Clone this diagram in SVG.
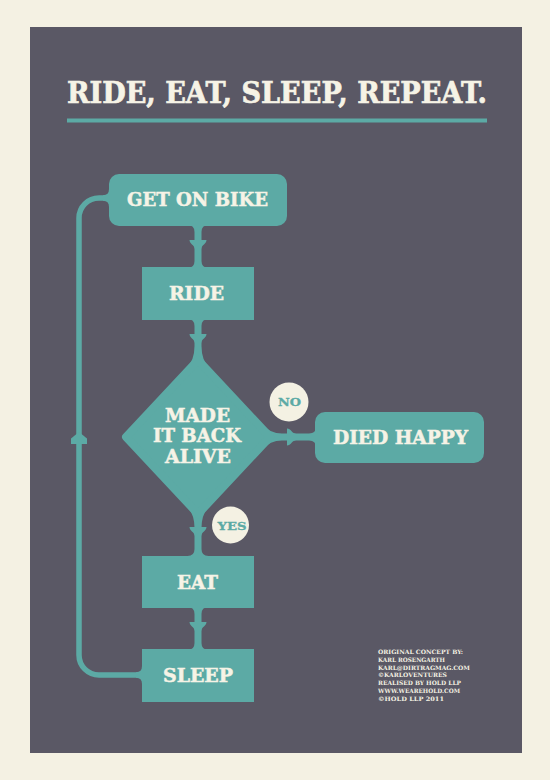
<svg xmlns="http://www.w3.org/2000/svg" width="550" height="780" viewBox="0 0 550 780">
  <defs>
    <style>
      .teal { fill: #5caaa5; }
      .lbl { font-family: "DejaVu Serif", "Liberation Serif", serif; font-weight: bold; fill: #f6f3e6; stroke: #f6f3e6; stroke-width: 0.5px; text-anchor: middle; font-size: 18px; }
      .badge { fill: #f4f1e3; }
      .btxt { font-family: "DejaVu Serif", "Liberation Serif", serif; font-weight: bold; fill: #5caaa5; stroke: #5caaa5; stroke-width: 0.3px; text-anchor: middle; font-size: 11.5px; }
      .cred { font-family: "DejaVu Serif", "Liberation Serif", serif; font-weight: bold; fill: #f4f1e3; font-size: 6px; }
    </style>
    <path id="arr" d="M-8.5,0 H8.5 C8.5,4 3.5,5 3.5,8.5 H-3.5 C-3.5,5 -8.5,4 -8.5,0 Z"/>
  </defs>

  <rect x="0" y="0" width="550" height="780" fill="#f4f1e3"/>
  <rect x="30" y="27" width="492" height="726" fill="#5a5865"/>

  <text x="67" y="102.5" font-family="DejaVu Serif, Liberation Serif, serif" font-weight="bold" font-size="29" fill="#f6f3e6" stroke="#f6f3e6" stroke-width="0.7" textLength="420" lengthAdjust="spacingAndGlyphs">RIDE, EAT, SLEEP, REPEAT.</text>
  <rect x="67" y="118.5" width="420" height="4" class="teal"/>

  <g id="connectors" class="teal">
    <!-- loop back line -->
    <path d="M142,675 H99 A20,20 0 0 1 79,655 V218 A20,20 0 0 1 99,198 H110" fill="none" stroke="#5caaa5" stroke-width="5.5"/>
    <path d="M136,672.25 Q142,672.25 142,666 L142,684 Q142,677.75 136,677.75 Z"/>
    <path d="M103,195.25 Q109,195.25 109,189 L109,207 Q109,200.75 103,200.75 Z"/>
    <path d="M71,444 V438.5 L79,432 L87,438.5 V444 Z"/>
    <!-- get on bike -> ride -->
    <path d="M187.5,225 Q194.5,225 194.5,232 L194.5,261 Q194.5,268 187.5,268 H208.5 Q201.5,268 201.5,261 V232 Q201.5,225 208.5,225 Z"/>
    <use href="#arr" x="198" y="240"/>
    <!-- ride -> decision -->
    <path d="M187.5,319 Q194.5,319 194.5,326 L194.5,346 Q194.5,360 186.7,368 L209.3,368 Q201.5,360 201.5,346 L201.5,326 Q201.5,319 208.5,319 Z"/>
    <use href="#arr" x="198" y="334"/>
    <!-- decision -> eat -->
    <path d="M186.7,506 Q194.5,514 194.5,528 L194.5,549 Q194.5,556 187.5,556 H208.5 Q201.5,556 201.5,549 V528 Q201.5,514 209.3,506 Z"/>
    <use href="#arr" x="198" y="527"/>
    <!-- eat -> sleep -->
    <path d="M187.5,607 Q194.5,607 194.5,614 L194.5,643 Q194.5,650 187.5,650 H208.5 Q201.5,650 201.5,643 V614 Q201.5,607 208.5,607 Z"/>
    <use href="#arr" x="198" y="622"/>
    <!-- decision -> died happy -->
    <path d="M262,424.2 Q270,433.5 282,433.5 H309 Q316,433.5 316,426.5 V447.5 Q316,440.5 309,440.5 H282 Q270,440.5 262,449.8 Z"/>
    <use href="#arr" transform="translate(287,437) rotate(-90)"/>
  </g>

  <g id="node-get-on-bike">
    <rect x="109" y="174" width="178" height="52" rx="10" class="teal"/>
    <text x="197.5" y="206" class="lbl" textLength="141" lengthAdjust="spacingAndGlyphs">GET ON BIKE</text>
  </g>

  <g id="node-ride">
    <rect x="142" y="267" width="112" height="53" class="teal"/>
    <text x="196.5" y="300" class="lbl" textLength="55" lengthAdjust="spacingAndGlyphs">RIDE</text>
  </g>

  <g id="node-decision">
    <polygon points="198,360 270,437 198,514 126,437" class="teal" stroke="#5caaa5" stroke-width="8" stroke-linejoin="round"/>
    <text x="197.5" y="422" class="lbl" textLength="65" lengthAdjust="spacingAndGlyphs">MADE</text>
    <text x="197" y="442" class="lbl" textLength="88" lengthAdjust="spacingAndGlyphs">IT BACK</text>
    <text x="198" y="463" class="lbl" textLength="66" lengthAdjust="spacingAndGlyphs">ALIVE</text>
  </g>

  <g id="label-no">
    <circle cx="289" cy="402" r="19.5" class="badge"/>
    <text x="289.5" y="406" class="btxt" textLength="23" lengthAdjust="spacingAndGlyphs">NO</text>
  </g>

  <g id="label-yes">
    <circle cx="230.5" cy="525" r="18.5" class="badge"/>
    <text x="232" y="530" class="btxt" textLength="29" lengthAdjust="spacingAndGlyphs">YES</text>
  </g>

  <g id="node-died-happy">
    <rect x="315" y="412" width="169" height="51" rx="10" class="teal"/>
    <text x="400.5" y="444" class="lbl" textLength="135" lengthAdjust="spacingAndGlyphs">DIED HAPPY</text>
  </g>

  <g id="node-eat">
    <rect x="142" y="556" width="112" height="52" class="teal"/>
    <text x="197.5" y="589" class="lbl" textLength="41" lengthAdjust="spacingAndGlyphs">EAT</text>
  </g>

  <g id="node-sleep">
    <rect x="142" y="649" width="112" height="53" class="teal"/>
    <text x="198" y="682" class="lbl" textLength="70" lengthAdjust="spacingAndGlyphs">SLEEP</text>
  </g>

  <g id="credits">
    <text x="378" y="654" class="cred" textLength="85" lengthAdjust="spacingAndGlyphs">ORIGINAL CONCEPT BY:</text>
    <text x="378" y="661.8" class="cred" textLength="67" lengthAdjust="spacingAndGlyphs">KARL ROSENGARTH</text>
    <text x="378" y="669.6" class="cred" textLength="92" lengthAdjust="spacingAndGlyphs">KARL@DIRTRAGMAG.COM</text>
    <text x="378" y="677.4" class="cred" textLength="69" lengthAdjust="spacingAndGlyphs">©KARLOVENTURES</text>
    <text x="378" y="685.2" class="cred" textLength="83" lengthAdjust="spacingAndGlyphs">REALISED BY HOLD LLP</text>
    <text x="378" y="693" class="cred" textLength="82" lengthAdjust="spacingAndGlyphs">WWW.WEAREHOLD.COM</text>
    <text x="378" y="700.8" class="cred" textLength="66" lengthAdjust="spacingAndGlyphs">©HOLD LLP 2011</text>
  </g>
</svg>
